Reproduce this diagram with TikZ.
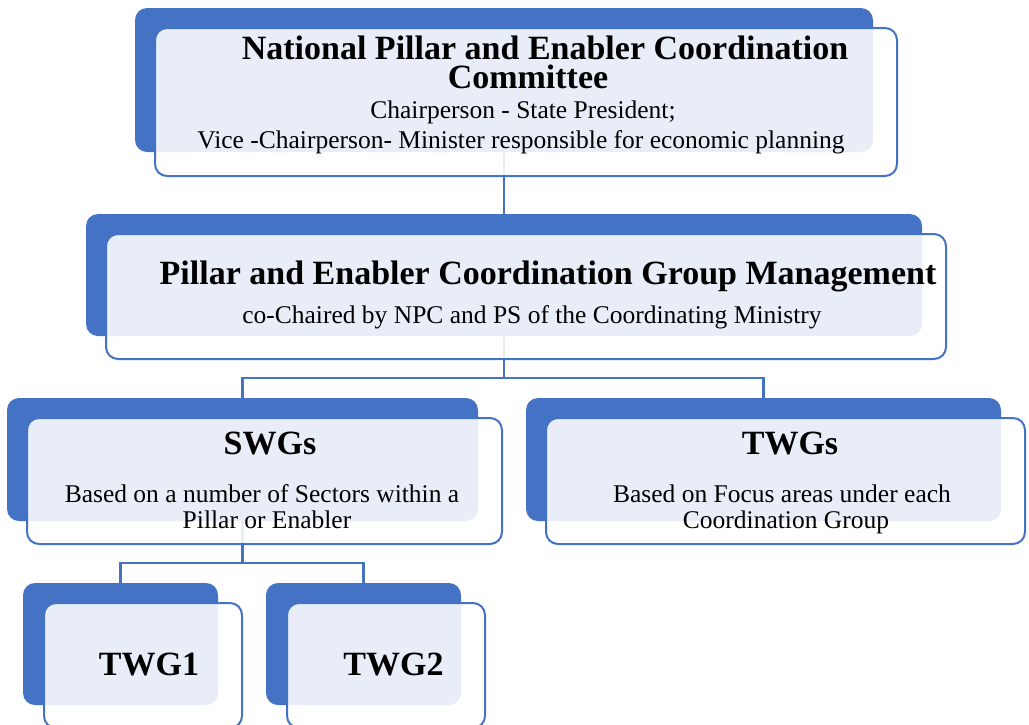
\documentclass[tikz,border=0pt]{standalone}
\usepackage{fontspec}
\setmainfont{Liberation Serif}
\definecolor{accent}{HTML}{4472C4}
\begin{document}
\begin{tikzpicture}[x=1pt,y=-1pt,
  backbox/.style={rectangle, rounded corners=12pt, fill=accent, draw=none,
    inner sep=0pt, outer sep=0pt},
  frontbox/.style={rectangle, rounded corners=12pt, fill=white, fill opacity=0.88,
    draw=accent, draw opacity=1, line width=2pt, inner sep=0pt, outer sep=0pt},
  link/.style={draw=accent, line width=2.2pt},
  headtext/.style={font=\fontsize{34}{36}\selectfont\bfseries, anchor=base, inner sep=0pt},
  bodytext/.style={font=\fontsize{25.5}{28}\selectfont, anchor=base, inner sep=0pt}]
\useasboundingbox (0,0) rectangle (1029,724);
\clip (0,0) rectangle (1029,724);

% dark back panels
\node[backbox, minimum width=738pt, minimum height=144pt] (bnat) at (504,80) {};
\node[backbox, minimum width=836pt, minimum height=122pt] (bgrp) at (504,275) {};
\node[backbox, minimum width=471pt, minimum height=123pt] (bswg) at (242.5,459.5) {};
\node[backbox, minimum width=475pt, minimum height=123pt] (btwg) at (763.5,459.5) {};
\node[backbox, minimum width=195pt, minimum height=122pt] (bone) at (120.5,644) {};
\node[backbox, minimum width=195pt, minimum height=122pt] (btwo) at (363.5,644) {};

% connectors between panels
\coordinate (j1) at (504,378);
\coordinate (j2) at (242.5,563);
\draw[link] (bnat.south) -- (bgrp.north);
\draw[link] (bgrp.south) -- (j1);
\draw[link] (j1) -| (bswg.north);
\draw[link] (j1) -| (btwg.north);
\draw[link] (bswg.south) -- (j2);
\draw[link] (j2) -| (bone.north);
\draw[link] (j2) -| (btwo.north);

% light front panels
\node[frontbox, minimum width=742pt, minimum height=148pt] (fnat) at (526,102) {};
\node[frontbox, minimum width=840pt, minimum height=125pt] (fgrp) at (526,296.5) {};
\node[frontbox, minimum width=475pt, minimum height=126pt] (fswg) at (264.5,481) {};
\node[frontbox, minimum width=479pt, minimum height=126pt] (ftwg) at (785.5,481) {};
\node[frontbox, minimum width=198pt, minimum height=125pt] (fone) at (143,665.5) {};
\node[frontbox, minimum width=198pt, minimum height=125pt] (ftwo) at (386,665.5) {};

% texts
\node[headtext, text depth=0pt] (t1a) at (545,59) {National Pillar and Enabler Coordination};
\node[headtext, text height=22pt] (t1b) at (528,88) {Committee};
\node[bodytext] (t1c) at (523,118) {Chairperson - State President;};
\node[bodytext] (t1d) at (521,148) {Vice -Chairperson- Minister responsible for economic planning};

\node[headtext] (t2a) at (548,284) {Pillar and Enabler Coordination Group Management};
\node[bodytext] (t2b) at (532,323) {co-Chaired by NPC and PS of the Coordinating Ministry};

\node[headtext] (t3a) at (270,454) {SWGs};
\node[bodytext] (t3b) at (262,502) {Based on a number of Sectors within a};
\node[bodytext] (t3c) at (267,528) {Pillar or Enabler};

\node[headtext] (t4a) at (790,454) {TWGs};
\node[bodytext] (t4b) at (782,502) {Based on Focus areas under each};
\node[bodytext] (t4c) at (786,528) {Coordination Group};

\node[headtext] (t5) at (149,675) {TWG1};
\node[headtext] (t6) at (393.5,675) {TWG2};
\end{tikzpicture}
\end{document}
